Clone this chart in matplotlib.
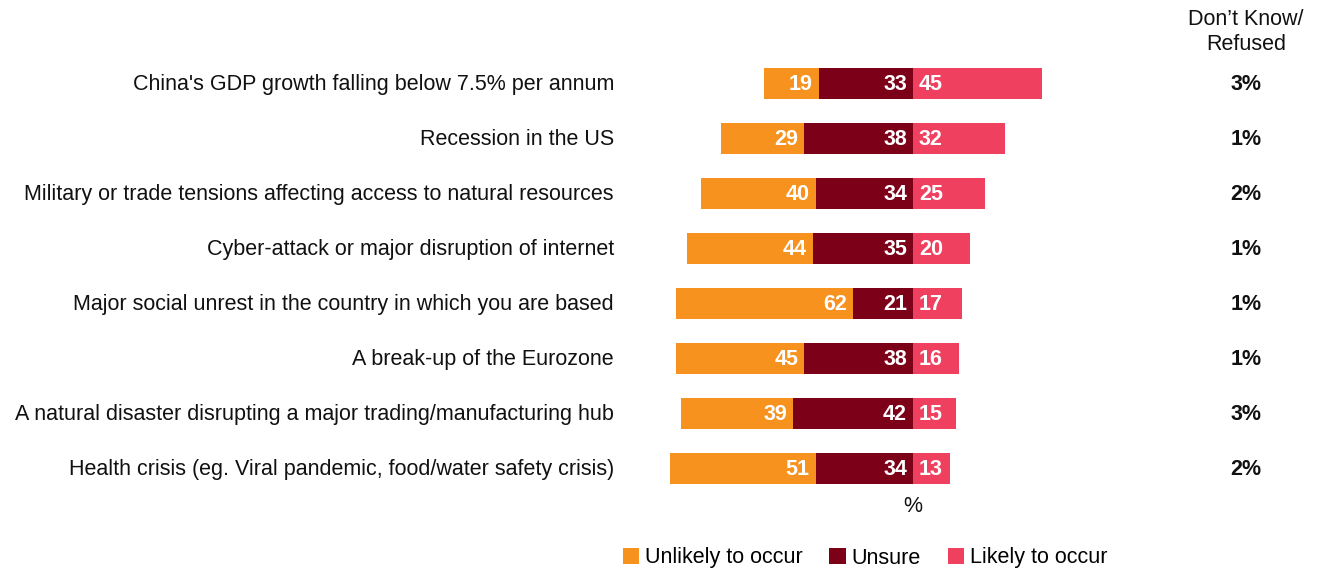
import numpy as np
import matplotlib.pyplot as plt

plt.rcParams['font.family'] = ['Liberation Sans', 'DejaVu Sans']

risks = [
    "China's GDP growth falling below 7.5% per annum",
    "Recession in the US",
    "Military or trade tensions affecting access to natural resources",
    "Cyber-attack or major disruption of internet",
    "Major social unrest in the country in which you are based",
    "A break-up of the Eurozone",
    "A natural disaster disrupting a major trading/manufacturing hub",
    "Health crisis (eg. Viral pandemic, food/water safety crisis)",
]
unlikely = [19, 29, 40, 44, 62, 45, 39, 51]
unsure = [33, 38, 34, 35, 21, 38, 42, 34]
likely = [45, 32, 25, 20, 17, 16, 15, 13]
dont_know = [3, 1, 2, 1, 1, 1, 3, 2]

c_unlikely = '#F7921E'
c_unsure = '#7D0019'
c_likely = '#F04060'

W, H = 1322, 568
PX = 2.86      # pixels per percentage point
X0 = 913       # pixel position of the zero line
ROW0, ROWH = 83, 55
FS = 15.5

fig = plt.figure(figsize=(W / 100, H / 100), dpi=100)
ax = fig.add_axes([0, 0, 1, 1])
ax.set_xlim(-X0 / PX, (W - X0) / PX)
ax.set_ylim((H - ROW0) / ROWH, -ROW0 / ROWH)
ax.axis('off')

y = np.arange(len(risks))
unl = np.array(unlikely)
uns = np.array(unsure)
lik = np.array(likely)
bh = 31 / ROWH
pad = 6 / PX
dy = 1.5 / ROWH   # nudge text down a little to sit centred on the bars

ax.barh(y, -uns, height=bh, color=c_unsure, label='Unsure')
ax.barh(y, -unl, left=-uns, height=bh, color=c_unlikely, label='Unlikely to occur')
ax.barh(y, lik, height=bh, color=c_likely, label='Likely to occur')

num_kw = dict(color='white', fontsize=FS, fontweight='bold', va='center')
for i in y:
    ty = i + dy
    ax.text(-uns[i] - pad, ty, str(unl[i]), ha='right', **num_kw)
    ax.text(-pad, ty, str(uns[i]), ha='right', **num_kw)
    ax.text(pad, ty, str(lik[i]), ha='left', **num_kw)
    ax.text((614 - X0) / PX, ty, risks[i], ha='right', va='center',
            fontsize=FS, color='#111111')
    ax.text((1246 - X0) / PX, ty, f'{dont_know[i]}%', ha='center', va='center',
            fontsize=FS, fontweight='bold', color='#111111')

ax.text((1246 - X0) / PX, (32 - ROW0) / ROWH, "Don\u2019t Know/\nRefused",
        ha='center', va='center', fontsize=FS, color='#111111', linespacing=1.27)
ax.text(0, (506 - ROW0) / ROWH, '%', ha='center', va='center',
        fontsize=FS, color='#111111')

handles, labels = ax.get_legend_handles_labels()
order = [1, 0, 2]
ax.legend([handles[k] for k in order], [labels[k] for k in order],
          loc='center', bbox_to_anchor=(865 / W, 1 - 558 / H), ncol=3,
          frameon=False, fontsize=FS, handlelength=0.75, handleheight=0.75,
          handletextpad=0.28, columnspacing=1.25, borderpad=0)

fig.savefig('out.png', dpi=100)
